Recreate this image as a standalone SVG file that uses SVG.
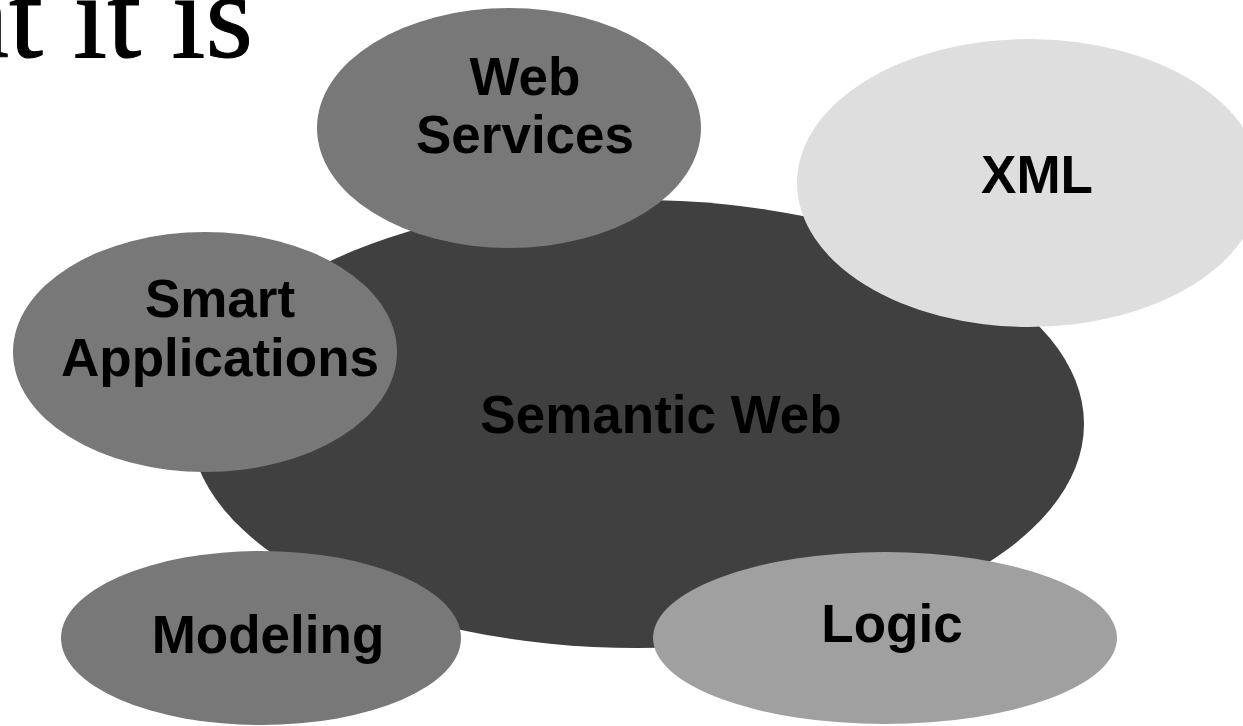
<svg xmlns="http://www.w3.org/2000/svg" width="1243" height="726" viewBox="0 0 1243 726">
<style>
.lbl{font-family:"Liberation Sans",Arial,sans-serif;font-weight:bold;font-size:53px;fill:#000;text-anchor:middle}
.title{font-family:"Liberation Serif","Times New Roman",serif;font-size:122px;fill:#000;text-anchor:end;stroke:#000;stroke-width:1px}
</style>
<rect width="1243" height="726" fill="#fff"/>
<text class="title" x="253" y="57">at it is</text>
<g id="connectors"></g>
<g id="semantic-web">
<ellipse cx="637" cy="424" rx="447" ry="224" fill="#404040"/>
</g>
<g id="web-services">
<ellipse cx="509" cy="128" rx="192" ry="120" fill="#787878"/>
<text class="lbl" x="525" y="95">Web</text>
<text class="lbl" x="525" y="153">Services</text>
</g>
<g id="xml">
<ellipse cx="1029" cy="183" rx="232" ry="144" fill="#dedede"/>
<text class="lbl" x="1037" y="193">XML</text>
</g>
<g id="smart-applications">
<ellipse cx="205" cy="352" rx="192" ry="120" fill="#787878"/>
<text class="lbl" x="220" y="317">Smart</text>
<text class="lbl" x="220" y="376">Applications</text>
</g>
<g id="modeling">
<ellipse cx="261" cy="638" rx="200" ry="87" fill="#787878"/>
<text class="lbl" x="268" y="653">Modeling</text>
</g>
<g id="logic">
<ellipse cx="885" cy="638" rx="232" ry="86" fill="#a0a0a0"/>
<text class="lbl" x="892" y="642">Logic</text>
</g>
<text class="lbl" x="661" y="433">Semantic Web</text>
</svg>
